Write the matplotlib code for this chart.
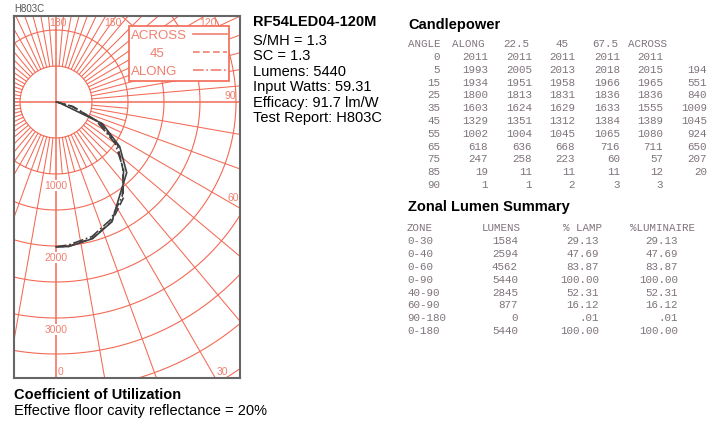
import numpy as np
import matplotlib.pyplot as plt
from matplotlib.patches import Rectangle

# ============================================================
# DATA
# ============================================================

angles = [0, 5, 15, 25, 35, 45, 55, 65, 75, 85, 90]
along = [2011, 1993, 1934, 1800, 1603, 1329, 1002, 618, 247, 19, 1]
c225 = [2011, 2005, 1951, 1813, 1624, 1351, 1004, 636, 258, 11, 1]
c45 = [2011, 2013, 1958, 1831, 1629, 1312, 1045, 668, 223, 11, 2]
c675 = [2011, 2018, 1966, 1836, 1633, 1384, 1065, 716, 60, 11, 3]
across = [2011, 2015, 1965, 1836, 1555, 1389, 1080, 711, 57, 12, 3]
extra_col = ["", "194", "551", "840", "1009", "1045", "924", "650", "207", "20", ""]
cp_headers = ["ANGLE", "ALONG", "22.5", "45", "67.5", "ACROSS"]

zones = ["0-30", "0-40", "0-60", "0-90", "40-90", "60-90", "90-180", "0-180"]
zone_lumens = ["1584", "2594", "4562", "5440", "2845", "877", "0", "5440"]
zone_lamp = ["29.13", "47.69", "83.87", "100.00", "52.31", "16.12", ".01", "100.00"]
zone_lum = ["29.13", "47.69", "83.87", "100.00", "52.31", "16.12", ".01", "100.00"]
zone_headers = ["ZONE", "LUMENS", "% LAMP", "%LUMINAIRE"]

info_title = "RF54LED04-120M"
info_lines = ["S/MH = 1.3", "SC = 1.3", "Lumens: 5440", "Input Watts: 59.31",
              "Efficacy: 91.7 lm/W", "Test Report: H803C"]

ring_vals = [1000, 2000, 3000]
angle_labels = ["180", "150", "120", "90", "60", "30", "0"]

# ============================================================
# STYLE
# ============================================================

W, H = 725, 429
GRID = "#f36a55"
LBL = "#f07f6f"
TBL = "#7f737c"
CURVE = "#404040"
SANS = "Liberation Sans"
MONO = "Liberation Mono"

fig = plt.figure(figsize=(W / 100, H / 100), dpi=100)


def px(x, y):
    return x / W, 1 - y / H


def ftext(x, y, s, **kw):
    kw.setdefault("va", "center")
    kw.setdefault("family", SANS)
    fig.text(*px(x, y), s, **kw)


# ============================================================
# POLAR CANDLEPOWER GRID
# ============================================================

cx, cy, scale = 56, 102, 1000 / 72     # centre in pixels, cd per pixel
bx0, by0, bx1, by1 = 14, 16, 240, 378
ax = fig.add_axes([bx0 / W, 1 - by1 / H, (bx1 - bx0) / W, (by1 - by0) / H])
ax.set_xlim((bx0 - cx) * scale, (bx1 - cx) * scale)
ax.set_ylim(-(by1 - cy) * scale, (cy - by0) * scale)
ax.set_xticks([])
ax.set_yticks([])
for sp in ax.spines.values():
    sp.set_color("#666666")
    sp.set_linewidth(1.5)

t = np.linspace(0, 2 * np.pi, 400)
for r in range(500, 6001, 500):
    ax.plot(r * np.sin(t), r * np.cos(t), color=GRID, lw=0.8)
ax.axhline(0, color=GRID, lw=1.1)
ax.axvline(0, color=GRID, lw=1.1)
for a in range(0, 360, 5):
    if a % 90 == 0:
        continue
    th = np.radians(a)
    upper = 90 < a < 270
    r_end = 6000 if (a % 10 == 0 or upper) else 1000
    ax.plot([500 * np.sin(th), r_end * np.sin(th)],
            [-500 * np.cos(th), -r_end * np.cos(th)], color=GRID, lw=0.75)

# candlepower curves
th = np.radians(angles)
for vals, ls in [(across, "-"), (c45, (0, (5, 2))), (along, "-.")]:
    v = np.array(vals)
    ax.plot(v * np.sin(th), -v * np.cos(th), color=CURVE, lw=1.2, ls=ls)

# ring labels
for v in ring_vals:
    ax.text(0, -v - 160, str(v), color=LBL, fontsize=7.5, family=SANS,
            ha="center", va="center",
            bbox=dict(facecolor="white", edgecolor="none", pad=0.3))

# angle labels
lbl_pos = [(58, 23), (113, 23), (208, 23), (230, 96), (233, 198), (222, 372), (61, 372)]
for s, (x, y) in zip(angle_labels, lbl_pos):
    ftext(x, y, s, color=LBL, fontsize=7.5, ha="center")
ftext(14, 9, "H803C", color="#555555", fontsize=7, ha="left")

# legend box
ax.add_patch(Rectangle(((129 - cx) * scale, (cy - 81) * scale), 100 * scale, 55 * scale,
                       facecolor="white", edgecolor=GRID, lw=1.2, zorder=5))
for i, (name, ls) in enumerate([("ACROSS", "-"), ("45", (0, (4, 2))), ("ALONG", "-.")]):
    yy = 36 + i * 18
    ftext(131 if name != "45" else 150, yy, name, color=LBL, fontsize=9.5, ha="left")
    ax.plot([(193 - cx) * scale, (227 - cx) * scale], [(cy - yy + 2) * scale] * 2,
            color=LBL, lw=1.2, ls=ls, zorder=6)

# ============================================================
# TEXT BLOCKS
# ============================================================

ftext(253, 22, info_title, fontsize=10.5, weight="bold", ha="left")
for i, s in enumerate(info_lines):
    ftext(253, 41 + i * 15.4, s, fontsize=10.5, ha="left")

ftext(408, 25, "Candlepower", fontsize=10.5, weight="bold", ha="left")
hdr_x = [408, 452, 503, 555, 592, 628]
for s, x in zip(cp_headers, hdr_x):
    ftext(x, 44, s, family=MONO, fontsize=7.8, color=TBL, ha="left")
col_r = [440, 488, 532, 575, 620, 663, 707]
for i, a in enumerate(angles):
    y = 57 + i * 12.8
    row = [str(a), along[i], c225[i], c45[i], c675[i], across[i], extra_col[i]]
    for s, x in zip(row, col_r):
        ftext(x, y, str(s), family=MONO, fontsize=7.8, color=TBL, ha="right")

ftext(408, 207, "Zonal Lumen Summary", fontsize=10.5, weight="bold", ha="left")
for s, x in zip(zone_headers, [407, 482, 563, 630]):
    ftext(x, 228, s, family=MONO, fontsize=7.8, color=TBL, ha="left")
for i in range(len(zones)):
    y = 241 + i * 12.9
    ftext(407, y, zones[i], family=MONO, fontsize=7.8, color=TBL, ha="left")
    ftext(518, y, zone_lumens[i], family=MONO, fontsize=7.8, color=TBL, ha="right")
    ftext(599, y, zone_lamp[i], family=MONO, fontsize=7.8, color=TBL, ha="right")
    ftext(678, y, zone_lum[i], family=MONO, fontsize=7.8, color=TBL, ha="right")

ftext(14, 395, "Coefficient of Utilization", fontsize=10.5, weight="bold", ha="left")
ftext(14, 411, "Effective floor cavity reflectance = 20%", fontsize=10.5, ha="left")

fig.savefig("out.png", dpi=100)
